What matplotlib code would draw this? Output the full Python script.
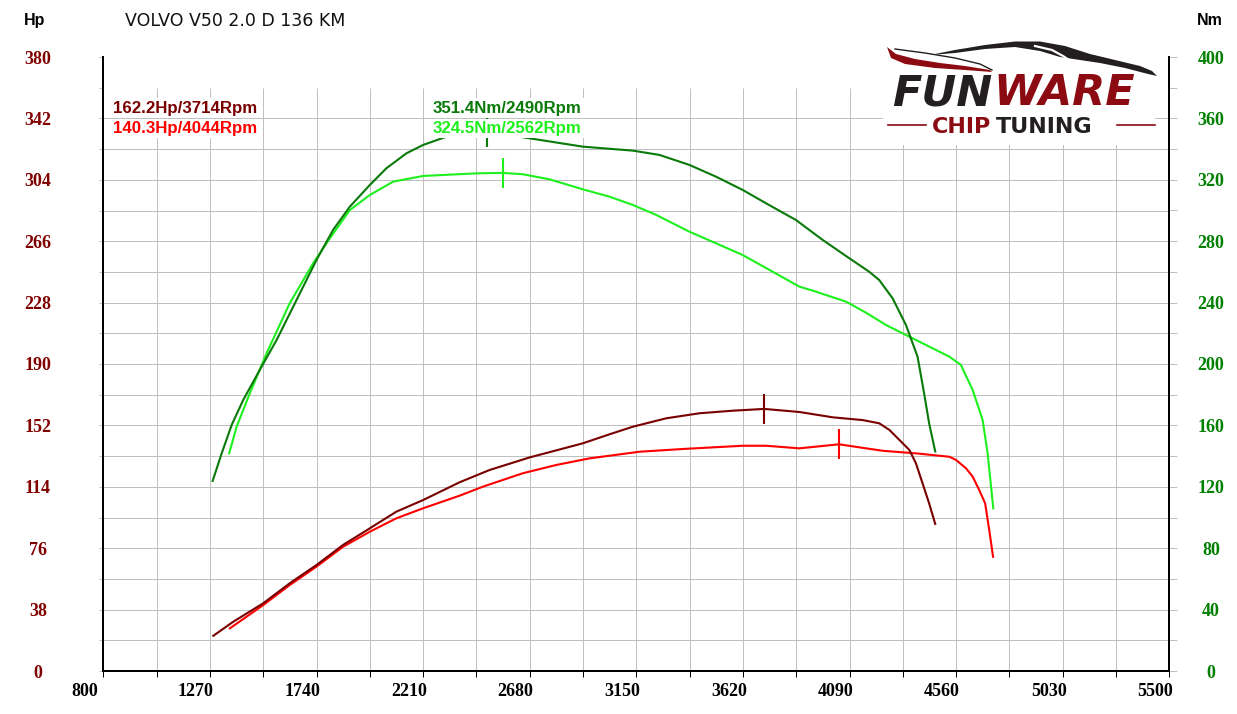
import numpy as np
import matplotlib
matplotlib.use("Agg")
import matplotlib.pyplot as plt
from matplotlib.patches import Rectangle, Polygon
from matplotlib.lines import Line2D
from matplotlib.text import Annotation
from matplotlib.transforms import ScaledTranslation, Affine2D

# ---------------- data ----------------
title = "VOLVO V50 2.0 D 136 KM"

hp_tuned_rpm = [1285, 1373, 1505, 1622, 1740, 1857, 1975, 2092, 2210, 2371, 2503, 2680, 2914,
                3032, 3135, 3282, 3428, 3575, 3714, 3869, 4016, 4148, 4221, 4266, 4310, 4354,
                4383, 4412, 4441, 4468]
hp_tuned = [21.8, 30.5, 41.9, 54.3, 65.6, 78.0, 88.3, 98.6, 105.8, 116.8, 124.4, 132.2, 140.9,
            146.5, 151.2, 156.4, 159.5, 161.1, 162.2, 160.3, 157.0, 155.3, 153.3, 149.2, 143.0,
            136.8, 128.5, 116.2, 103.8, 91.0]

hp_stock_rpm = [1358, 1505, 1622, 1740, 1857, 1975, 2092, 2210, 2371, 2474, 2650, 2797, 2944,
                3164, 3355, 3619, 3722, 3869, 4016, 4044, 4163, 4236, 4383, 4530, 4560, 4604,
                4633, 4662, 4688, 4706, 4723]
hp_stock = [26.4, 40.8, 53.2, 64.6, 76.9, 86.2, 94.5, 100.7, 108.5, 114.1, 122.4, 127.5, 131.6,
            135.7, 137.4, 139.4, 139.4, 137.8, 139.9, 140.3, 137.8, 136.3, 134.7, 132.6, 130.6,
            125.4, 120.3, 112.0, 103.8, 87.3, 70.7]

nm_tuned_rpm = [1282, 1322, 1366, 1417, 1498, 1564, 1652, 1740, 1813, 1887, 1975, 2048, 2137,
                2210, 2313, 2490, 2650, 2914, 3135, 3252, 3384, 3502, 3619, 3722, 3854, 3972,
                4089, 4177, 4221, 4280, 4339, 4390, 4419, 4441, 4468]
nm_tuned = [123.8, 141.8, 160.3, 176.6, 198.3, 215.6, 241.7, 267.8, 287.3, 302.5, 316.6, 327.5,
            337.3, 342.7, 348.1, 351.4, 347.7, 341.6, 339.0, 336.2, 329.7, 322.0, 313.4, 304.7,
            293.8, 280.8, 268.9, 260.1, 254.7, 242.8, 225.4, 204.8, 180.9, 161.4, 143.0]

nm_stock_rpm = [1355, 1388, 1446, 1520, 1622, 1725, 1799, 1887, 1975, 2078, 2210, 2445, 2562,
                2650, 2768, 2914, 3032, 3135, 3238, 3384, 3502, 3619, 3737, 3869, 3928, 4075,
                4163, 4251, 4339, 4442, 4530, 4581, 4633, 4677, 4699, 4724]
nm_stock = [141.8, 159.2, 180.9, 207.0, 239.6, 265.6, 281.9, 300.3, 310.1, 318.8, 322.5, 324.2,
            324.5, 323.6, 320.3, 313.8, 309.0, 303.6, 297.1, 286.2, 278.6, 271.0, 261.3, 250.4,
            247.8, 240.6, 233.4, 225.4, 218.9, 211.3, 204.8, 199.4, 183.1, 163.5, 141.8, 106.0]

peak_hp_tuned = (3714, 162.2)
peak_hp_stock = (4044, 140.3)
peak_nm_tuned = (2490, 351.4)
peak_nm_stock = (2562, 324.5)

x_ticks = [800, 1270, 1740, 2210, 2680, 3150, 3620, 4090, 4560, 5030, 5500]
hp_ticks = [0, 38, 76, 114, 152, 190, 228, 266, 304, 342, 380]
nm_ticks = [0, 40, 80, 120, 160, 200, 240, 280, 320, 360, 400]

# ---------------- style ----------------
C_HP_T = "#7a0000"
C_HP_S = "#ff0000"
C_NM_T = "#0a7a0a"
C_NM_S = "#1ef01e"
GRID = "#c0c0c0"
LOGO_RED = "#8c0b12"
LOGO_BLK = "#231f20"

W, H, DPI = 1237, 714, 100
PX = 72.0 / DPI  # points per pixel

fig = plt.figure(figsize=(W / DPI, H / DPI), dpi=DPI)
fig.patch.set_facecolor("white")

L, R, B, T = 103.3, 1169.3, 671.0, 57.0
ax = fig.add_axes([L / W, 1 - B / H, (R - L) / W, (B - T) / H])
ax.set_xlim(x_ticks[0], x_ticks[-1])
ax.set_ylim(hp_ticks[0], hp_ticks[-1])
ax2 = ax.twinx()
ax2.set_ylim(nm_ticks[0], nm_ticks[-1])

# grid (half-step lines, top row omitted as in the original)
xstep = (x_ticks[1] - x_ticks[0]) / 2
ystep = (hp_ticks[1] - hp_ticks[0]) / 2
gx = np.arange(x_ticks[0] + xstep, x_ticks[-1] - 1, xstep)
gy = np.arange(ystep, hp_ticks[-1] - ystep - 1, ystep)
ax.hlines(gy, x_ticks[0], x_ticks[-1], color=GRID, lw=1 * PX, zorder=0.5)
ax.vlines(gx, 0, hp_ticks[-1] - ystep, color=GRID, lw=1 * PX, zorder=0.5)

# spines
for s in ["top", "right"]:
    ax.spines[s].set_visible(False)
for s in ["top", "left", "bottom"]:
    ax2.spines[s].set_visible(False)
for s in ["left", "bottom"]:
    ax.spines[s].set_linewidth(2 * PX)
    ax.spines[s].set_color("black")
ax2.spines["right"].set_linewidth(2 * PX)
ax2.spines["right"].set_color("black")

tick_font = dict(family="Liberation Serif", weight="bold", size=13)

# x ticks
ax.set_xticks(x_ticks)
ax.set_xticks(gx[::2], minor=True)
ax.tick_params(axis="x", which="both", direction="out", length=6 * PX, width=1 * PX,
               color="black", pad=4)
ax.set_xticklabels([str(v) for v in x_ticks], fontdict=tick_font)
shift = ScaledTranslation(-32 / DPI, 0, fig.dpi_scale_trans)
for lab in ax.get_xticklabels():
    lab.set_horizontalalignment("left")
    lab.set_transform(lab.get_transform() + shift)

# left y ticks (Hp)
ax.set_yticks(hp_ticks)
ax.set_yticks(np.array(hp_ticks[:-1]) + ystep, minor=True)
ax.tick_params(axis="y", which="both", direction="out", length=4 * PX, width=1 * PX,
               color=GRID, pad=(65.3 - 4) * PX)
ax.set_yticklabels([str(v) for v in hp_ticks], fontdict=tick_font, color="#800000")
for lab in ax.get_yticklabels():
    lab.set_horizontalalignment("center")

# right y ticks (Nm)
ax2.set_yticks(nm_ticks)
ax2.set_yticks(np.array(nm_ticks[:-1]) + (nm_ticks[1] - nm_ticks[0]) / 2, minor=True)
ax2.tick_params(axis="y", which="both", direction="out", length=8 * PX, width=1 * PX,
                color=GRID, pad=(41.7 - 8) * PX)
ax2.set_yticklabels([str(v) for v in nm_ticks], fontdict=tick_font, color="#008000")
for lab in ax2.get_yticklabels():
    lab.set_horizontalalignment("center")

# curves
lw = 2 * PX * 1.05
ax.plot(hp_stock_rpm, hp_stock, color=C_HP_S, lw=lw, zorder=3)
ax.plot(hp_tuned_rpm, hp_tuned, color=C_HP_T, lw=lw, zorder=3)
ax2.plot(nm_stock_rpm, nm_stock, color=C_NM_S, lw=lw, zorder=3)
ax2.plot(nm_tuned_rpm, nm_tuned, color=C_NM_T, lw=lw, zorder=3)

# peak markers (+/- 15 px)
hp_half = 15 * hp_ticks[-1] / (B - T)
nm_half = 15 * nm_ticks[-1] / (B - T)
ax.vlines(peak_hp_tuned[0], peak_hp_tuned[1] - hp_half, peak_hp_tuned[1] + hp_half,
          color=C_HP_T, lw=lw, zorder=3)
ax.vlines(peak_hp_stock[0], peak_hp_stock[1] - hp_half, peak_hp_stock[1] + hp_half,
          color=C_HP_S, lw=lw, zorder=3)
ax2.vlines(peak_nm_tuned[0], peak_nm_tuned[1] - nm_half, peak_nm_tuned[1] + nm_half,
           color=C_NM_T, lw=lw, zorder=3)
ax2.vlines(peak_nm_stock[0], peak_nm_stock[1] - nm_half, peak_nm_stock[1] + nm_half,
           color=C_NM_S, lw=lw, zorder=3)


def fx(x):
    return x / W


def fy(y):
    return 1 - y / H


# peak labels
lab_font = dict(family="Liberation Sans", weight="bold", size=12.2)
box = dict(facecolor="white", edgecolor="none", pad=1.5)
fig.text(fx(113), fy(112.5), f"{peak_hp_tuned[1]:.1f}Hp/{peak_hp_tuned[0]}Rpm",
         color=C_HP_T, va="baseline", bbox=box, zorder=4, **lab_font)
fig.text(fx(113), fy(133), f"{peak_hp_stock[1]:.1f}Hp/{peak_hp_stock[0]}Rpm",
         color=C_HP_S, va="baseline", bbox=box, zorder=4, **lab_font)
fig.text(fx(433), fy(112.5), f"{peak_nm_tuned[1]:.1f}Nm/{peak_nm_tuned[0]}Rpm",
         color=C_NM_T, va="baseline", bbox=box, zorder=4, **lab_font)
fig.text(fx(433), fy(133), f"{peak_nm_stock[1]:.1f}Nm/{peak_nm_stock[0]}Rpm",
         color=C_NM_S, va="baseline", bbox=box, zorder=4, **lab_font)

# headers
fig.text(fx(23.5), fy(25), "Hp", family="Liberation Sans", weight="bold", size=11.5,
         va="baseline", color="black")
fig.text(fx(1197), fy(25), "Nm", family="Liberation Sans", weight="bold", size=11.5,
         va="baseline", color="black")
fig.text(fx(125), fy(26.5), title, family="DejaVu Sans", size=12.5, va="baseline",
         color="#111111")

# ---------------- logo ----------------
pix = Affine2D().scale(1 / W, -1 / H).translate(0, 1) + fig.transFigure
fig.add_artist(Rectangle((883, 37), 272, 108, transform=pix, facecolor="white",
                         edgecolor="none", zorder=1))
red_swoosh = [(887, 47), (896, 54), (915, 59), (940, 63), (965, 66), (990, 70),
              (992, 72), (965, 70), (935, 68), (905, 64), (891, 58)]
fig.add_artist(Polygon(red_swoosh, closed=True, transform=pix, facecolor=LOGO_RED,
                       edgecolor="none", zorder=2))
fig.add_artist(Line2D([895, 925, 955, 980, 992], [49, 53, 58, 64, 70], transform=pix,
                      color=LOGO_BLK, lw=1.0, zorder=2))
roof = [(930, 55), (955, 50), (985, 45), (1015, 41.5), (1040, 41.5), (1065, 46), (1090, 54),
        (1115, 60), (1140, 66), (1152, 71), (1157, 76), (1148, 74), (1125, 68), (1100, 63),
        (1080, 60), (1060, 57), (1040, 51), (1015, 47), (985, 49), (955, 53)]
fig.add_artist(Polygon(roof, closed=True, transform=pix, facecolor=LOGO_BLK,
                       edgecolor="none", zorder=2))
fig.add_artist(Line2D([1035, 1052, 1063, 1072], [46, 50, 56, 62], transform=pix,
                      color="white", lw=1.6, zorder=2.5))

big = dict(family="DejaVu Sans", weight="bold", style="oblique", size=31)
t_fun = fig.text(fx(892), fy(105), "FUN", color=LOGO_BLK, va="baseline", zorder=3, **big)
fig.add_artist(Annotation("WARE", xy=(1, 0), xycoords=t_fun, xytext=(1, 0),
                          textcoords="offset points", va="bottom", ha="left",
                          color=LOGO_RED, zorder=3, **big))
small = dict(family="DejaVu Sans", weight="bold", size=16)
t_chip = fig.text(fx(932), fy(133), "CHIP", color=LOGO_RED, va="baseline", zorder=3, **small)
fig.add_artist(Annotation("TUNING", xy=(1, 0), xycoords=t_chip, xytext=(3, 0),
                          textcoords="offset points", va="bottom", ha="left",
                          color=LOGO_BLK, zorder=3, **small))
fig.add_artist(Line2D([888, 926], [125, 125], transform=pix, color=LOGO_RED, lw=1.2, zorder=3))
fig.add_artist(Line2D([1117, 1155], [125, 125], transform=pix, color=LOGO_RED, lw=1.2, zorder=3))

fig.savefig("out.png", dpi=DPI, facecolor="white")
